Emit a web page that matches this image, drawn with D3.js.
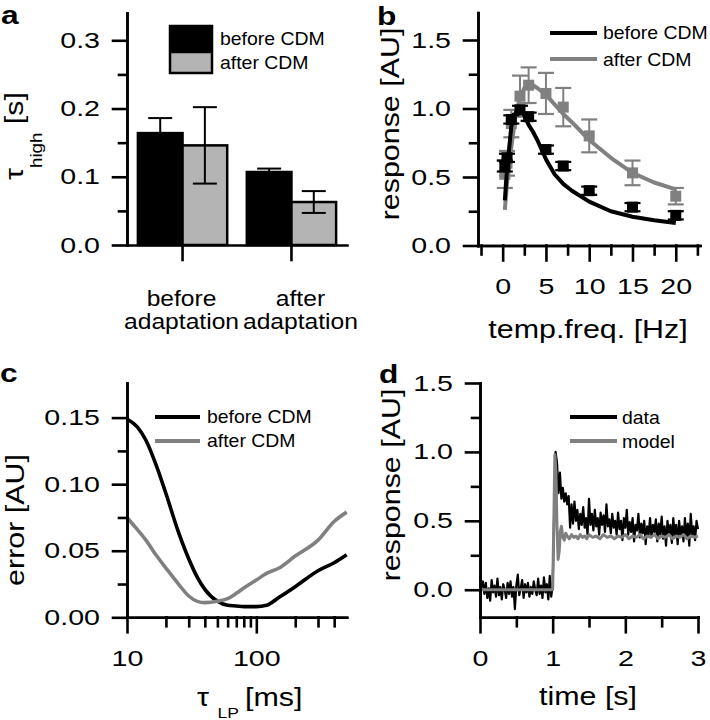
<!DOCTYPE html>
<html><head><meta charset="utf-8">
<script src="https://cdn.jsdelivr.net/npm/d3@7"></script>
<style>
body{margin:0;background:#fff;}
svg{display:block;}
text{font-family:"Liberation Sans",Arial,Helvetica,sans-serif;fill:#000;}
</style></head><body>
<svg id="chart" width="710" height="720"></svg>
<script>
// ---------------- DATA ----------------
// panel a
const aGroups = ["before adaptation", "after adaptation"];
const aGroupLines = [["before", "adaptation"], ["after", "adaptation"]];
const aSeries = ["before CDM", "after CDM"];
const aBefore = [0.164, 0.107];
const aBeforeErr = [0.022, 0.005];
const aAfter = [0.146, 0.063];
const aAfterErr = [0.056, 0.016];
const aYTicks = [0, 0.1, 0.2, 0.3];
const aYMinor = [0.05, 0.15, 0.25];

// panel b
const bFreq = [0.25, 0.5, 1, 2, 3, 5, 7, 10, 15, 20];
const bBefore = [0.58, 0.64, 0.92, 0.99, 0.94, 0.70, 0.58, 0.40, 0.28, 0.22];
const bBeforeErr = [0.04, 0.03, 0.03, 0.03, 0.03, 0.03, 0.03, 0.03, 0.03, 0.03];
const bAfter = [0.52, 0.60, 0.89, 1.09, 1.17, 1.11, 1.01, 0.80, 0.53, 0.36];
const bAfterErr = [0.10, 0.09, 0.10, 0.15, 0.13, 0.15, 0.14, 0.12, 0.09, 0.06];
const bFitFreq = [0.25, 0.5, 1, 1.5, 2, 2.5, 3, 3.5, 4, 5, 6, 7, 8, 10, 12.5, 15, 17.5, 20];
const bFitBefore = [0.33, 0.55, 0.87, 0.97, 1.00, 0.95, 0.88, 0.83, 0.77, 0.63, 0.52, 0.45, 0.40, 0.32, 0.25, 0.21, 0.185, 0.165];
const bFitAfter = [0.26, 0.45, 0.72, 0.95, 1.08, 1.15, 1.18, 1.17, 1.15, 1.10, 1.03, 0.96, 0.90, 0.77, 0.64, 0.53, 0.46, 0.41];
const bXTicks = [0, 5, 10, 15, 20];
const bXMinor = [-2.5, 2.5, 7.5, 12.5, 17.5, 22.5];
const bYTicks = [0, 0.5, 1.0, 1.5];
const bYMinor = [0.25, 0.75, 1.25];

// panel c
const cTau = [10, 12, 14, 17, 20, 25, 30, 35, 40, 50, 60, 70, 80, 100, 120, 150, 200, 300, 400, 500];
const cBefore = [0.149, 0.143, 0.133, 0.113, 0.093, 0.064, 0.044, 0.030, 0.021, 0.012, 0.009, 0.0085, 0.008, 0.008, 0.009, 0.015, 0.023, 0.035, 0.041, 0.047];
const cAfter = [0.075, 0.066, 0.058, 0.046, 0.037, 0.025, 0.016, 0.012, 0.011, 0.012, 0.014, 0.018, 0.022, 0.028, 0.033, 0.037, 0.046, 0.058, 0.072, 0.079];
const cXTicks = [10, 100];
const cXMinor = [20, 30, 40, 50, 60, 70, 80, 90, 200, 300, 400];
const cYTicks = [0, 0.05, 0.10, 0.15];
const cYMinor = [0.025, 0.075, 0.125];

// panel d
const dStep = 0.02; // sampling interval of the recorded trace [s]
const dData = [
  0.10, 0.02, 0.06, -0.03, 0.05, -0.06, 0.01, -0.08, 0.07, -0.02,
  0.03, -0.05, 0.08, -0.04, 0.02, -0.07, 0.04, 0.00, -0.06, 0.05,
  -0.03, 0.06, -0.05, 0.02, -0.14, 0.03, 0.11, -0.04, 0.01, 0.07,
  -0.06, 0.04, -0.02, 0.05, -0.05, 0.02, -0.03, 0.06, 0.00, -0.04,
  0.08, -0.03, 0.03, -0.06, 0.09, -0.02, 0.04, -0.07, 0.10, -0.05,
  0.03, 0.55, 1.00, 0.92, 0.70, 0.85, 0.66, 0.74, 0.64, 0.70,
  0.62, 0.68, 0.45, 0.62, 0.48, 0.64, 0.50, 0.58, 0.44, 0.55,
  0.47, 0.60, 0.45, 0.52, 0.40, 0.66, 0.47, 0.55, 0.43, 0.58,
  0.46, 0.52, 0.40, 0.56, 0.47, 0.54, 0.42, 0.62, 0.46, 0.51,
  0.41, 0.55, 0.45, 0.50, 0.40, 0.56, 0.44, 0.50, 0.36, 0.52,
  0.45, 0.58, 0.40, 0.49, 0.42, 0.52, 0.35, 0.47, 0.43, 0.55,
  0.38, 0.48, 0.41, 0.50, 0.33, 0.46, 0.40, 0.52, 0.38, 0.47,
  0.42, 0.51, 0.35, 0.48, 0.40, 0.53, 0.37, 0.46, 0.32, 0.50,
  0.41, 0.47, 0.34, 0.52, 0.39, 0.47, 0.33, 0.50, 0.40, 0.46,
  0.35, 0.52, 0.38, 0.48, 0.32, 0.55, 0.40, 0.46, 0.36, 0.50,
  0.44
];
const dModel = [[0,0],[1.0,0],[1.015,0.45],[1.03,0.98],[1.045,0.85],[1.06,0.45],[1.075,0.22],[1.09,0.28],[1.105,0.42],[1.12,0.46],[1.14,0.38],[1.16,0.36],[1.18,0.41],[1.20,0.39],[1.23,0.37],[1.26,0.40],[1.29,0.38],[1.32,0.39],[1.35,0.37],[1.38,0.40],[1.41,0.38],[1.44,0.39],[1.47,0.37],[1.50,0.40],[1.55,0.38],[1.60,0.39],[1.65,0.37],[1.70,0.40],[1.75,0.38],[1.80,0.39],[1.85,0.37],[1.90,0.39],[1.95,0.38],[2.0,0.40],[2.05,0.37],[2.1,0.39],[2.15,0.38],[2.2,0.40],[2.25,0.37],[2.3,0.39],[2.35,0.38],[2.4,0.40],[2.45,0.37],[2.5,0.39],[2.55,0.38],[2.6,0.40],[2.65,0.37],[2.7,0.39],[2.75,0.38],[2.8,0.40],[2.85,0.37],[2.9,0.39],[2.95,0.38],[3.0,0.39]];
const dXTicks = [0, 1, 2, 3];
const dXMinor = [0.5, 1.5, 2.5];
const dYTicks = [0, 0.5, 1.0, 1.5];
const dYMinor = [0.25, 0.75, 1.25];

// ---------------- STYLE ----------------
const FONT = '"Liberation Sans", Arial, Helvetica, sans-serif';
const GRAY = "#808080", BARGRAY = "#b4b4b4";
const TICK_FS = 22, TICK_S = 1.3;
const TITLE_FS = 26, TITLE_S = 1.17;
const LEG_FS = 18, LEG_S = 1.08;
const AX_W = 2.6;

const svg = d3.select("#chart");

function stretch(sel, s) {
  sel.each(function () {
    const t = d3.select(this);
    const x = +t.attr("x") || 0;
    t.attr("x", 0).attr("transform", `translate(${x},0) scale(${s},1)`);
  });
}

function drawAxis(axisFn, scale, tr, major, minor, fmt) {
  const isY = axisFn === d3.axisLeft;
  const majorLen = isY ? 14 : 15, minorLen = isY ? 8 : 9, pad = isY ? 13 : 18;
  if (minor.length) {
    svg.append("g").attr("transform", tr)
      .call(axisFn(scale).tickValues(minor).tickSize(minorLen).tickSizeOuter(0).tickFormat(""))
      .call(g => g.selectAll("line,path").attr("stroke", "#000").attr("stroke-width", AX_W).attr("stroke-linecap", "square"));
  }
  const g = svg.append("g").attr("transform", tr)
    .call(axisFn(scale).tickValues(major).tickSize(majorLen).tickSizeOuter(0).tickPadding(pad).tickFormat(fmt));
  g.selectAll("line,path").attr("stroke", "#000").attr("stroke-width", AX_W).attr("stroke-linecap", "square");
  g.selectAll("text").attr("font-size", TICK_FS).attr("font-family", FONT).attr("fill", "#000");
  stretch(g.selectAll("text"), TICK_S);
  return g;
}

function panelLabel(txt, x, y) {
  svg.append("text").attr("transform", `translate(${x},${y}) scale(1.22,1)`)
    .attr("font-size", 26).attr("font-weight", "bold").text(txt);
}

function yTitle(x, y, build) {
  const t = svg.append("text").attr("transform", `translate(${x},${y}) rotate(-90) scale(${TITLE_S},1)`)
    .attr("text-anchor", "middle").attr("font-size", TITLE_FS);
  build(t);
  return t;
}

function xTitle(x, y, anchor, build) {
  const t = svg.append("text").attr("transform", `translate(${x},${y}) scale(${TITLE_S},1)`)
    .attr("text-anchor", anchor).attr("font-size", TITLE_FS);
  build(t);
  return t;
}

function legendText(x, y, txt) {
  svg.append("text").attr("transform", `translate(${x},${y}) scale(${LEG_S},1)`)
    .attr("font-size", LEG_FS).text(txt);
}

// ---------------- PANEL A ----------------
const xa = d3.scaleBand().domain(aGroups).range([127, 347]).paddingInner(0.18).paddingOuter(0.1);
const xaIn = d3.scaleBand().domain(aSeries).range([0, xa.bandwidth()]);
const ya = d3.scaleLinear().domain([0, 0.34]).range([245, 13]);

const aRows = [];
aGroups.forEach((g, i) => {
  aRows.push({ g, s: aSeries[0], v: aBefore[i], e: aBeforeErr[i], fill: "#000" });
  aRows.push({ g, s: aSeries[1], v: aAfter[i], e: aAfterErr[i], fill: BARGRAY });
});
const aG = svg.append("g");
aG.selectAll("rect.bar").data(aRows).join("rect").attr("class", "bar")
  .attr("x", d => xa(d.g) + xaIn(d.s))
  .attr("y", d => ya(d.v))
  .attr("width", xaIn.bandwidth())
  .attr("height", d => ya(0) - ya(d.v))
  .attr("fill", d => d.fill).attr("stroke", "#000").attr("stroke-width", 2.5);
const aErr = aG.selectAll("g.err").data(aRows).join("g").attr("class", "err")
  .attr("transform", d => `translate(${xa(d.g) + xaIn(d.s) + xaIn.bandwidth() / 2},0)`);
aErr.append("line").attr("y1", d => ya(d.v + d.e)).attr("y2", d => ya(d.v - d.e)).attr("stroke", "#000").attr("stroke-width", 2);
aErr.append("line").attr("x1", -12).attr("x2", 12).attr("y1", d => ya(d.v + d.e)).attr("y2", d => ya(d.v + d.e)).attr("stroke", "#000").attr("stroke-width", 2);
aErr.append("line").attr("x1", -12).attr("x2", 12).attr("y1", d => ya(d.v - d.e)).attr("y2", d => ya(d.v - d.e)).attr("stroke", "#000").attr("stroke-width", 2);

drawAxis(d3.axisLeft, ya, "translate(127,0)", aYTicks, aYMinor, d3.format(".1f"));
drawAxis(d3.axisBottom, xa, "translate(0,245)", aGroups, [], () => "");

const aLabOffset = [-1, 9];
aGroups.forEach((g, i) => {
  const t = svg.append("text")
    .attr("transform", `translate(${xa(g) + xa.bandwidth() / 2 + aLabOffset[i]},0) scale(1.12,1)`)
    .attr("text-anchor", "middle").attr("font-size", 22);
  t.append("tspan").attr("x", 0).attr("y", 306).text(aGroupLines[i][0]);
  t.append("tspan").attr("x", 0).attr("y", 329).text(aGroupLines[i][1]);
});

// legend a
[[aSeries[0], "#000", 26, 24, 45], [aSeries[1], BARGRAY, 52, 21, 69]].forEach(([name, fill, y, h, ty]) => {
  svg.append("rect").attr("x", 170).attr("y", y).attr("width", 42).attr("height", h)
    .attr("fill", fill).attr("stroke", "#000").attr("stroke-width", 2.5);
  legendText(220, ty, name);
});

yTitle(23, 136, t => {
  t.append("tspan").text("τ");
  t.append("tspan").attr("font-size", 16).attr("dy", 19).text("high");
  t.append("tspan").attr("dy", -19).text(" [s]");
});
panelLabel("a", 1, 24);

// ---------------- PANEL B ----------------
const xb = d3.scaleLinear().domain([-2.85, 22.8]).range([478, 700]);
const yb = d3.scaleLinear().domain([0, 1.7]).range([245.5, 12.6]);
const lineB = d3.line().x(d => xb(d[0])).y(d => yb(d[1]));

function drawBSeries(vals, errs, fitVals, color) {
  svg.append("path").datum(bFitFreq.map((f, i) => [f, fitVals[i]]))
    .attr("d", lineB).attr("fill", "none").attr("stroke", color).attr("stroke-width", 4).attr("stroke-linejoin", "round");
  const pts = bFreq.map((f, i) => ({ f, v: vals[i], e: errs[i] }));
  const g = svg.append("g").selectAll("g").data(pts).join("g")
    .attr("transform", d => `translate(${xb(d.f)},0)`);
  g.append("line").attr("y1", d => yb(d.v + d.e)).attr("y2", d => yb(d.v - d.e)).attr("stroke", color).attr("stroke-width", 2);
  g.append("line").attr("x1", -8).attr("x2", 8).attr("y1", d => yb(d.v + d.e)).attr("y2", d => yb(d.v + d.e)).attr("stroke", color).attr("stroke-width", 2.2);
  g.append("line").attr("x1", -8).attr("x2", 8).attr("y1", d => yb(d.v - d.e)).attr("y2", d => yb(d.v - d.e)).attr("stroke", color).attr("stroke-width", 2.2);
  g.append("rect").attr("x", -5.5).attr("y", d => yb(d.v) - 5.5).attr("width", 11).attr("height", 11).attr("fill", color);
}
drawBSeries(bAfter, bAfterErr, bFitAfter, GRAY);
drawBSeries(bBefore, bBeforeErr, bFitBefore, "#000");

drawAxis(d3.axisLeft, yb, "translate(478,0)", bYTicks, bYMinor, d3.format(".1f"));
drawAxis(d3.axisBottom, xb, "translate(0,245.5)", bXTicks, bXMinor, d3.format("d"));

svg.append("line").attr("x1", 550).attr("x2", 597).attr("y1", 33).attr("y2", 33).attr("stroke", "#000").attr("stroke-width", 4);
legendText(603, 39, aSeries[0]);
svg.append("line").attr("x1", 550).attr("x2", 597).attr("y1", 59).attr("y2", 59).attr("stroke", GRAY).attr("stroke-width", 4);
legendText(603, 66, aSeries[1]);

yTitle(399, 124, t => t.text("response [AU]"));
xTitle(588, 338, "middle", t => t.text("temp.freq. [Hz]"));
panelLabel("b", 377, 25);

// ---------------- PANEL C ----------------
const xc = d3.scaleLog().domain([10, 500]).range([127, 346.7]);
const yc = d3.scaleLinear().domain([0, 0.176]).range([617.3, 383]);
const lineC = d3.line().x(d => xc(d[0])).y(d => yc(d[1])).curve(d3.curveMonotoneX);
svg.append("path").datum(cTau.map((t, i) => [t, cBefore[i]]))
  .attr("d", lineC).attr("fill", "none").attr("stroke", "#000").attr("stroke-width", 3.6);
svg.append("path").datum(cTau.map((t, i) => [t, cAfter[i]]))
  .attr("d", lineC).attr("fill", "none").attr("stroke", GRAY).attr("stroke-width", 3.6);

drawAxis(d3.axisLeft, yc, "translate(127,0)", cYTicks, cYMinor, d3.format(".2f"));
drawAxis(d3.axisBottom, xc, "translate(0,617.3)", cXTicks, cXMinor, d => String(d));

svg.append("line").attr("x1", 155).attr("x2", 200).attr("y1", 417).attr("y2", 417).attr("stroke", "#000").attr("stroke-width", 4);
legendText(207, 423, aSeries[0]);
svg.append("line").attr("x1", 155).attr("x2", 200).attr("y1", 441).attr("y2", 441).attr("stroke", GRAY).attr("stroke-width", 4);
legendText(207, 447, aSeries[1]);

yTitle(24, 520, t => t.text("error [AU]"));
xTitle(197, 706, "start", t => {
  t.append("tspan").text("τ ");
  t.append("tspan").attr("font-size", 15).attr("dy", 12).text("LP");
  t.append("tspan").attr("dy", -12).text("\u2009[ms]");
});
panelLabel("c", 0, 382);

// ---------------- PANEL D ----------------
const xd = d3.scaleLinear().domain([0, 3]).range([480, 698]);
const yd = d3.scaleLinear().domain([-0.2, 1.5]).range([617.3, 383]);
const lineD = d3.line().x(d => xd(d[0])).y(d => yd(d[1]));
svg.append("path").datum(dData.map((v, i) => [i * dStep, v]))
  .attr("d", lineD).attr("fill", "none").attr("stroke", "#000").attr("stroke-width", 2.2).attr("stroke-linejoin", "round");
svg.append("path").datum(dModel)
  .attr("d", lineD).attr("fill", "none").attr("stroke", GRAY).attr("stroke-width", 3).attr("stroke-linejoin", "round");

drawAxis(d3.axisLeft, yd, "translate(480,0)", dYTicks, dYMinor, d3.format(".1f"));
drawAxis(d3.axisBottom, xd, "translate(0,617.3)", dXTicks, dXMinor, d3.format("d"));

svg.append("line").attr("x1", 570).attr("x2", 617).attr("y1", 417).attr("y2", 417).attr("stroke", "#000").attr("stroke-width", 4);
legendText(622, 424, "data");
svg.append("line").attr("x1", 570).attr("x2", 617).attr("y1", 441).attr("y2", 441).attr("stroke", GRAY).attr("stroke-width", 4);
legendText(622, 448, "model");

yTitle(400, 485, t => t.text("response [AU]"));
xTitle(588, 705, "middle", t => t.text("time [s]"));
panelLabel("d", 379, 383);
</script></body></html>
